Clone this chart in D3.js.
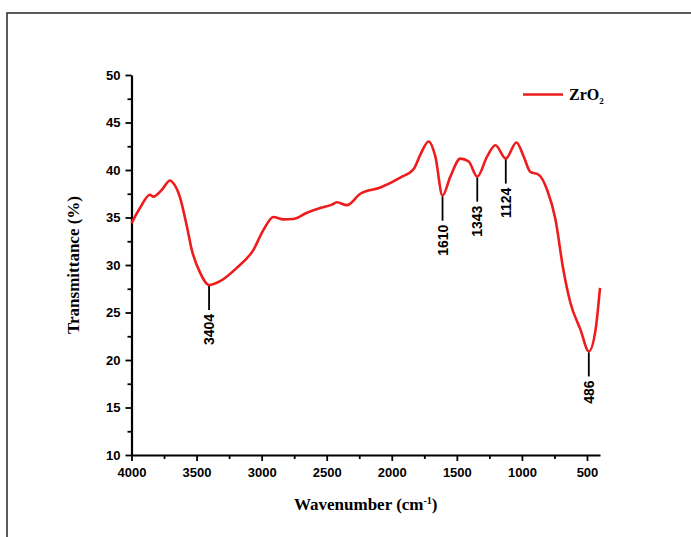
<!DOCTYPE html>
<html>
<head>
<meta charset="utf-8">
<script src="https://cdn.jsdelivr.net/npm/d3@7"></script>
<style>
  body { margin: 0; background: #fff; }
  svg { display: block; }
</style>
</head>
<body>
<div id="chart"></div>
<script>
'use strict';

// FTIR spectrum of ZrO2
var wavenumber = [4000, 3935, 3858, 3832, 3768, 3704, 3678, 3627, 3575, 3537, 3473, 3404,
  3319, 3191, 3063, 2986, 2909, 2832, 2755, 2652, 2550, 2460, 2422, 2345, 2242, 2088,
  1935, 1832, 1781, 1717, 1665, 1610, 1550, 1473, 1409, 1343, 1268, 1204, 1124, 1042,
  986, 935, 871, 806, 742, 683, 627, 550, 486, 434, 400];
var transmittance = [34.4, 36.0, 37.4, 37.2, 37.9, 38.9, 38.6, 37.1, 34.1, 31.6, 29.2, 27.9,
  28.3, 29.7, 31.6, 33.7, 35.05, 34.8, 34.85, 35.5, 36.0, 36.35, 36.6, 36.3, 37.5, 38.15,
  39.2, 40.1, 41.6, 43.0, 41.4, 37.3, 39.3, 41.2, 40.9, 39.3, 41.4, 42.6, 41.2, 42.9,
  41.4, 39.8, 39.5, 37.9, 34.8, 29.6, 26.0, 23.2, 20.9, 23.2, 27.6];
var peakLabels = [3404, 1610, 1343, 1124, 486];
var xTicks = [4000, 3500, 3000, 2500, 2000, 1500, 1000, 500];
var yTicks = [10, 15, 20, 25, 30, 35, 40, 45, 50];
var seriesName = 'ZrO';

var width = 691, height = 537;
var margin = {top: 75, right: 91, bottom: 82, left: 131.5};
var innerW = width - margin.left - margin.right;
var innerH = height - margin.top - margin.bottom;

var svg = d3.select('#chart').append('svg')
    .attr('width', width)
    .attr('height', height);

// outer frame (runs off the right and bottom edge)
svg.append('rect')
    .attr('x', 7).attr('y', 13)
    .attr('width', 700).attr('height', 540)
    .style('fill', 'none')
    .style('stroke', '#333')
    .style('stroke-width', 1.6);

var g = svg.append('g')
    .attr('transform', 'translate(' + margin.left + ',' + margin.top + ')');

var x = d3.scaleLinear().domain([4000, 400]).range([0, innerW]);
var y = d3.scaleLinear().domain([10, 50]).range([innerH, 0]);

var tickFont = '"Liberation Sans", Arial, sans-serif';
var titleFont = '"Liberation Serif", "Times New Roman", serif';

// minor ticks
g.append('g')
    .attr('transform', 'translate(0,' + innerH + ')')
    .call(d3.axisBottom(x).tickValues(d3.range(3750, 400, -500)).tickSize(4).tickFormat(''))
    .call(function(s){ s.select('.domain').remove(); });
g.append('g')
    .call(d3.axisLeft(y).tickValues(d3.range(12.5, 50, 5)).tickSize(4).tickFormat(''))
    .call(function(s){ s.select('.domain').remove(); });

// major axes
var xAxis = g.append('g')
    .attr('transform', 'translate(0,' + innerH + ')')
    .call(d3.axisBottom(x).tickValues(xTicks).tickFormat(d3.format('d'))
        .tickSize(6).tickSizeOuter(0).tickPadding(7));
var yAxis = g.append('g')
    .call(d3.axisLeft(y).tickValues(yTicks).tickFormat(d3.format('d'))
        .tickSize(6).tickSizeOuter(0).tickPadding(5));

g.selectAll('.tick line').style('stroke', '#000').style('stroke-width', 1.8);
g.selectAll('.domain').style('stroke', '#000').style('stroke-width', 2.2);
g.selectAll('.tick text')
    .style('font-family', tickFont)
    .style('font-weight', 'bold')
    .style('font-size', '13px')
    .style('fill', '#000');

// spectrum
var line = d3.line()
    .x(function(d, i){ return x(wavenumber[i]); })
    .y(function(d){ return y(d); })
    .curve(d3.curveMonotoneX);

g.append('path')
    .datum(transmittance)
    .attr('d', line)
    .style('fill', 'none')
    .style('stroke', '#ee1c1c')
    .style('stroke-width', 2.6)
    .style('stroke-linejoin', 'round');

// peak markers
peakLabels.forEach(function(p){
    var t = transmittance[wavenumber.indexOf(p)];
    var px = x(p), py = y(t);
    g.append('line')
        .attr('x1', px).attr('x2', px)
        .attr('y1', py + 1).attr('y2', py + 25)
        .style('stroke', '#000')
        .style('stroke-width', 1.8);
    g.append('text')
        .attr('transform', 'translate(' + px + ',' + (py + 29) + ') rotate(-90)')
        .attr('text-anchor', 'end')
        .attr('dy', '0.36em')
        .style('font-family', tickFont)
        .style('font-weight', 'bold')
        .style('font-size', '14px')
        .text(p);
});

// axis titles
svg.append('text')
    .attr('transform', 'translate(79,' + (margin.top + innerH / 2) + ') rotate(-90)')
    .attr('text-anchor', 'middle')
    .style('font-family', titleFont)
    .style('font-weight', 'bold')
    .style('font-size', '17px')
    .text('Transmittance (%)');

var xt = svg.append('text')
    .attr('x', margin.left + innerW / 2)
    .attr('y', 510)
    .attr('text-anchor', 'middle')
    .style('font-family', titleFont)
    .style('font-weight', 'bold')
    .style('font-size', '17px');
xt.append('tspan').text('Wavenumber (cm');
xt.append('tspan').attr('dy', -6).style('font-size', '10px').text('-1');
xt.append('tspan').attr('dy', 6).text(')');

// legend
svg.append('line')
    .attr('x1', 523).attr('x2', 563)
    .attr('y1', 94.5).attr('y2', 94.5)
    .style('stroke', '#ee1c1c')
    .style('stroke-width', 2.6);
var lt = svg.append('text')
    .attr('x', 569).attr('y', 100)
    .style('font-family', titleFont)
    .style('font-weight', 'bold')
    .style('font-size', '16px');
lt.append('tspan').text(seriesName);
lt.append('tspan').attr('dy', 4).style('font-size', '9px').text('2');
</script>
</body>
</html>
